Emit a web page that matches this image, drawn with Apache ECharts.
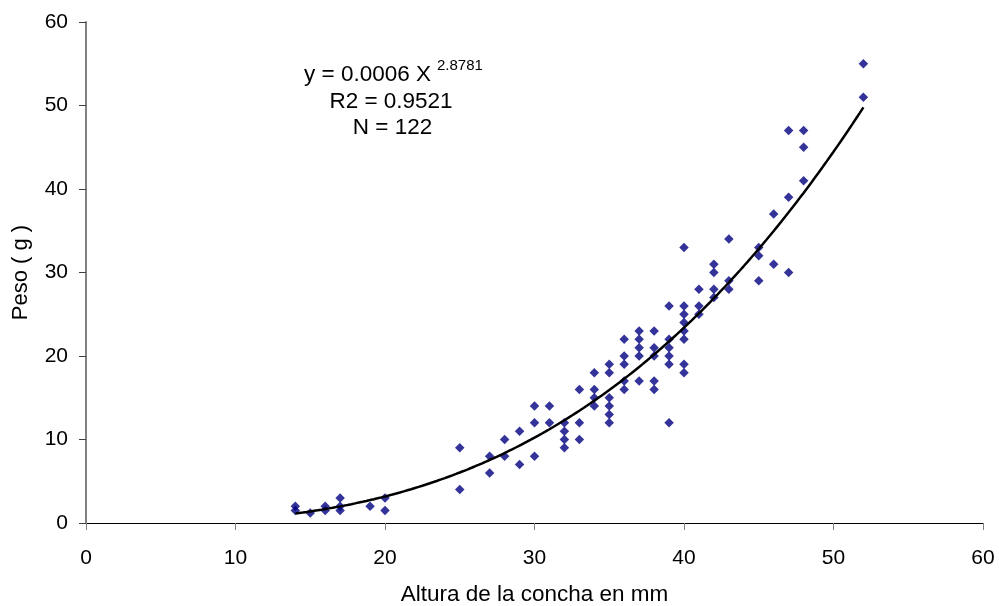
<!DOCTYPE html>
<html>
<head>
<meta charset="utf-8">
<script src="https://cdn.jsdelivr.net/npm/echarts@6/dist/echarts.min.js"></script>
<style>
  html, body { margin: 0; padding: 0; background: #fff; }
  #chart { width: 999px; height: 606px; }
</style>
</head>
<body>
<div id="chart"></div>
<script>
// Shell height (mm) and weight (g) of the sampled individuals
const alturaMm = [
  14, 14, 15, 16, 16, 17, 17, 17, 19, 20, 20,
  25, 25, 27, 27, 28, 28, 29, 29, 30, 30, 30, 31, 31,
  32, 32, 32, 32, 33, 33, 33, 34, 34, 34, 34,
  35, 35, 35, 35, 35, 35, 36, 36, 36, 36, 36,
  37, 37, 37, 37, 37, 38, 38, 38, 38, 38,
  39, 39, 39, 39, 39, 39, 40, 40, 40, 40, 40, 40, 40, 40,
  41, 41, 41, 42, 42, 42, 42, 43, 43, 43,
  45, 45, 45, 46, 46, 47, 47, 47, 48, 48, 48, 52, 52
];
const pesoG = [
  2, 1.5, 1.2, 2, 1.5, 3, 2, 1.5, 2, 3, 1.5,
  9, 4, 8, 6, 10, 8, 11, 7, 14, 12, 8, 14, 12,
  12, 11, 10, 9, 16, 12, 10, 18, 16, 15, 14,
  19, 18, 15, 14, 13, 12, 22, 20, 19, 17, 16,
  23, 22, 21, 20, 17, 23, 21, 20, 17, 16,
  26, 22, 21, 20, 19, 12, 33, 26, 25, 24, 23, 22, 19, 18,
  28, 26, 25, 31, 30, 28, 27, 34, 29, 28,
  33, 32, 29, 37, 31, 47, 39, 30, 47, 45, 41, 55, 51
];

// Power regression y = a * x^b (a shown rounded to 4 decimals)
const fitA = 0.000573;
const fitB = 2.8781;
const fitRange = [14, 52];

const equationText = 'y = 0.0006 X';
const exponentText = '2.8781';
const r2Text = 'R2 = 0.9521';
const nText = 'N = 122';

const xTicks = { min: 0, max: 60, interval: 10 };
const yTicks = { min: 0, max: 60, interval: 10 };

const points = alturaMm.map((x, i) => [x, pesoG[i]]);
const curve = [];
for (let x = fitRange[0]; x <= fitRange[1] + 1e-9; x += 0.25) {
  curve.push([x, fitA * Math.pow(x, fitB)]);
}

const font = '"Liberation Sans", Arial, sans-serif';
const chart = echarts.init(document.getElementById('chart'), null, { renderer: 'canvas' });

chart.setOption({
  backgroundColor: '#ffffff',
  animation: false,
  grid: { left: 86, right: 16, top: 22, bottom: 83, containLabel: false, outerBoundsMode: 'none' },
  xAxis: {
    type: 'value',
    min: xTicks.min, max: xTicks.max, interval: xTicks.interval,
    name: 'Altura de la concha en mm',
    nameLocation: 'middle',
    nameGap: 60,
    nameTextStyle: { fontFamily: font, fontSize: 22.5, color: '#000' },
    axisLine: { show: true, lineStyle: { color: '#000', width: 1 } },
    axisTick: { show: true, length: 7, lineStyle: { color: '#808080', width: 1 } },
    axisLabel: { margin: 25, fontFamily: font, fontSize: 21, color: '#000' },
    splitLine: { show: false }
  },
  yAxis: {
    type: 'value',
    min: yTicks.min, max: yTicks.max, interval: yTicks.interval,
    name: 'Peso ( g )',
    nameLocation: 'middle',
    nameGap: 54,
    nameTextStyle: { fontFamily: font, fontSize: 22, color: '#000' },
    axisLine: { show: true, lineStyle: { color: '#808080', width: 2 } },
    axisTick: { show: true, length: 7, lineStyle: { color: '#404040', width: 1 } },
    axisLabel: { margin: 18, fontFamily: font, fontSize: 21, color: '#000' },
    splitLine: { show: false }
  },
  series: [
    {
      type: 'scatter',
      data: points,
      symbol: 'diamond',
      symbolSize: 9.5,
      itemStyle: { color: '#000080' },
      z: 2
    },
    {
      type: 'line',
      data: curve,
      showSymbol: false,
      lineStyle: { color: '#000', width: 2.5 },
      z: 3
    }
  ],
  graphic: [
    {
      type: 'text', x: 367.5, y: 75,
      style: { text: equationText, font: '22.5px ' + font, fill: '#000', textAlign: 'center', textVerticalAlign: 'middle' }
    },
    {
      type: 'text', x: 437, y: 66,
      style: { text: exponentText, font: '15px ' + font, fill: '#000', textAlign: 'left', textVerticalAlign: 'middle' }
    },
    {
      type: 'text', x: 391, y: 102,
      style: { text: r2Text, font: '22.5px ' + font, fill: '#000', textAlign: 'center', textVerticalAlign: 'middle' }
    },
    {
      type: 'text', x: 392.5, y: 128,
      style: { text: nText, font: '22.5px ' + font, fill: '#000', textAlign: 'center', textVerticalAlign: 'middle' }
    }
  ]
});
</script>
</body>
</html>
